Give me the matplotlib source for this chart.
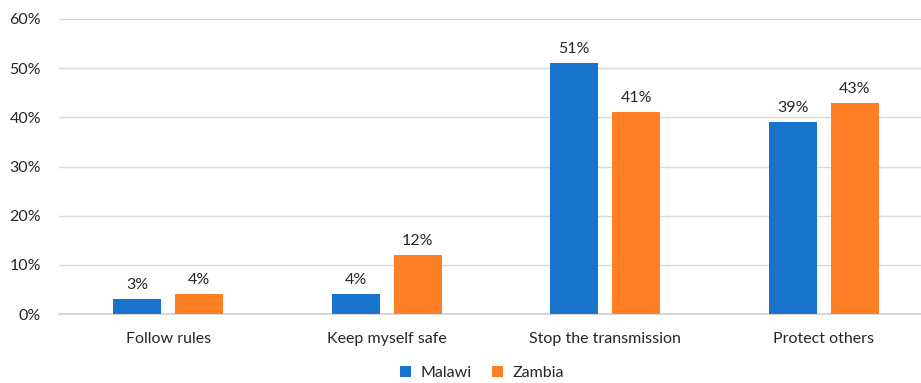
import matplotlib
matplotlib.use("Agg")
import matplotlib.pyplot as plt
import numpy as np

categories = ["Follow rules", "Keep myself safe", "Stop the transmission", "Protect others"]
malawi = [3, 4, 51, 39]
zambia = [4, 12, 41, 43]
yticks = [0, 10, 20, 30, 40, 50, 60]

plt.rcParams['font.family'] = ['Lato', 'DejaVu Sans']
fig = plt.figure(figsize=(9.21, 3.83), dpi=100)
ax = fig.add_axes([59/921, 1-314/383, 1-59/921, (314-19)/383])

x = np.arange(len(categories))
w = 0.22
off = 0.142
c1, c2 = "#1873CC", "#FF7F27"
fs = 11.5
b1 = ax.bar(x - off, malawi, w, color=c1, label="Malawi", zorder=3)
b2 = ax.bar(x + off, zambia, w, color=c2, label="Zambia", zorder=3)
tc = "#262626"
for bars, vals in ((b1, malawi), (b2, zambia)):
    for r, v in zip(bars, vals):
        ax.annotate(f"{v}%", (r.get_x() + r.get_width()/2, v), xytext=(0, 5),
                    textcoords="offset points", ha="center", va="bottom",
                    fontsize=fs, color=tc)

ax.set_xlim(-0.5, 3.5 - 12/218.7)
ax.set_ylim(0, 60)
ax.set_yticks(yticks)
ax.set_yticklabels([f"{t}%" for t in yticks])
ax.set_xticks(x)
ax.set_xticklabels(categories)
ax.tick_params(axis='both', length=0, labelsize=fs, labelcolor=tc)
ax.tick_params(axis='y', pad=13)
ax.tick_params(axis='x', pad=13)
ax.grid(axis='y', color="#D9D9D9", linewidth=1, zorder=0)
for s in ["top", "right", "left"]:
    ax.spines[s].set_visible(False)
ax.spines["bottom"].set_color("#D0D0D0")
ax.spines["bottom"].set_linewidth(1.2)

fig.legend(handles=[b1, b2], loc="center", bbox_to_anchor=(482/921, 1-373/383),
           ncol=2, frameon=False, fontsize=fs, handlelength=0.65, handleheight=0.65,
           handletextpad=0.6, columnspacing=1.3, labelcolor=tc)

fig.savefig("out.png", dpi=100)
